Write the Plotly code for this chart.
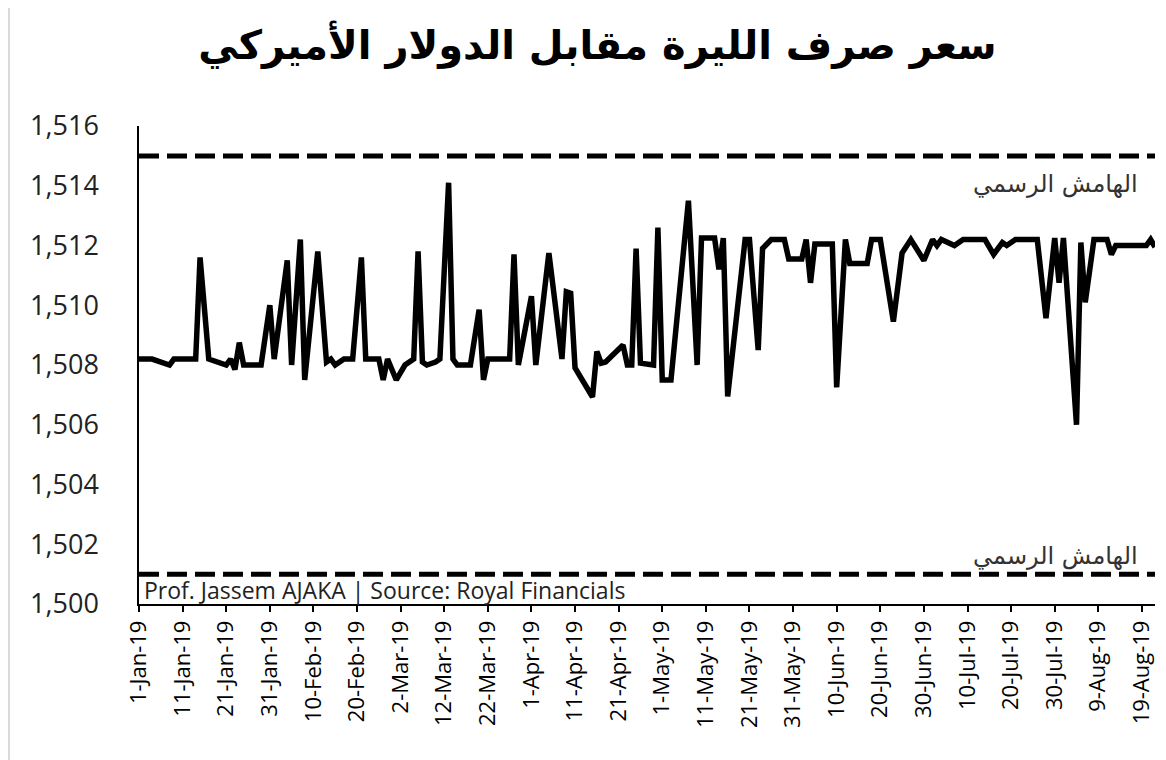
import plotly.graph_objects as go

# ---- data ----
dates = [
    "2019-01-01", "2019-01-04", "2019-01-08", "2019-01-09", "2019-01-14", "2019-01-15",
    "2019-01-17", "2019-01-21", "2019-01-22", "2019-01-23", "2019-01-24", "2019-01-25",
    "2019-01-29", "2019-01-31", "2019-02-01", "2019-02-04", "2019-02-05", "2019-02-07",
    "2019-02-08", "2019-02-11", "2019-02-13", "2019-02-14", "2019-02-15", "2019-02-17",
    "2019-02-19", "2019-02-21", "2019-02-22", "2019-02-25", "2019-02-26", "2019-02-27",
    "2019-03-01", "2019-03-03", "2019-03-05", "2019-03-06", "2019-03-07", "2019-03-08",
    "2019-03-10", "2019-03-11", "2019-03-13", "2019-03-14", "2019-03-15", "2019-03-18",
    "2019-03-20", "2019-03-21", "2019-03-22", "2019-03-27", "2019-03-28", "2019-03-29",
    "2019-04-01", "2019-04-02", "2019-04-05", "2019-04-08", "2019-04-09", "2019-04-10",
    "2019-04-11", "2019-04-15", "2019-04-16", "2019-04-17", "2019-04-18", "2019-04-22",
    "2019-04-23", "2019-04-24", "2019-04-25", "2019-04-26", "2019-04-29", "2019-04-30",
    "2019-05-01", "2019-05-03", "2019-05-07", "2019-05-09", "2019-05-10", "2019-05-13",
    "2019-05-14", "2019-05-15", "2019-05-16", "2019-05-20", "2019-05-21", "2019-05-23",
    "2019-05-24", "2019-05-26", "2019-05-29", "2019-05-30", "2019-06-02", "2019-06-03",
    "2019-06-04", "2019-06-05", "2019-06-09", "2019-06-10", "2019-06-12", "2019-06-13",
    "2019-06-17", "2019-06-18", "2019-06-20", "2019-06-23", "2019-06-25", "2019-06-27",
    "2019-06-30", "2019-07-02", "2019-07-03", "2019-07-04", "2019-07-07", "2019-07-09",
    "2019-07-14", "2019-07-16", "2019-07-18", "2019-07-19", "2019-07-21", "2019-07-26",
    "2019-07-28", "2019-07-30", "2019-07-31", "2019-08-01", "2019-08-04", "2019-08-05",
    "2019-08-06", "2019-08-08", "2019-08-11", "2019-08-12", "2019-08-13", "2019-08-20",
    "2019-08-21", "2019-08-22",
]
rates = [
    1508.2, 1508.2, 1508.0, 1508.2, 1508.2, 1511.6,
    1508.2, 1508.0, 1508.2, 1507.85, 1508.75, 1508.0,
    1508.0, 1510.0, 1508.2, 1511.5, 1508.0, 1512.2,
    1507.5, 1511.8, 1508.1, 1508.2, 1508.0, 1508.2,
    1508.2, 1511.6, 1508.2, 1508.2, 1507.5, 1508.2,
    1507.5, 1508.0, 1508.2, 1511.8, 1508.1, 1508.0,
    1508.1, 1508.2, 1514.1, 1508.2, 1508.0, 1508.0,
    1509.85, 1507.5, 1508.2, 1508.2, 1511.7, 1508.0,
    1510.3, 1508.0, 1511.75, 1508.2, 1510.45, 1510.4,
    1507.9, 1506.93, 1508.45, 1508.06, 1508.1, 1508.67,
    1508.0, 1508.0, 1511.9, 1508.06, 1508.0, 1512.6,
    1507.5, 1507.5, 1513.5, 1508.0, 1512.25, 1512.25,
    1511.2, 1512.25, 1506.95, 1512.2, 1512.2, 1508.5,
    1511.9, 1512.2, 1512.2, 1511.55, 1511.55, 1512.2,
    1510.75, 1512.05, 1512.05, 1507.25, 1512.2, 1511.4,
    1511.4, 1512.2, 1512.2, 1509.45, 1511.75, 1512.2,
    1511.5, 1512.2, 1512.0, 1512.2, 1512.0, 1512.2,
    1512.2, 1511.7, 1512.1, 1512.0, 1512.2, 1512.2,
    1509.57, 1512.25, 1510.75, 1512.25, 1506.0, 1512.1,
    1510.1, 1512.2, 1512.2, 1511.7, 1512.0, 1512.0,
    1512.2, 1511.95,
]
upper_margin = 1515
lower_margin = 1501
x_start = "2019-01-01"
x_end = "2019-08-22"
tick_dates = [
    "2019-01-01", "2019-01-11", "2019-01-21", "2019-01-31", "2019-02-10", "2019-02-20",
    "2019-03-02", "2019-03-12", "2019-03-22", "2019-04-01", "2019-04-11", "2019-04-21",
    "2019-05-01", "2019-05-11", "2019-05-21", "2019-05-31", "2019-06-10", "2019-06-20",
    "2019-06-30", "2019-07-10", "2019-07-20", "2019-07-30", "2019-08-09", "2019-08-19",
]
tick_labels = [
    "1-Jan-19", "11-Jan-19", "21-Jan-19", "31-Jan-19", "10-Feb-19", "20-Feb-19",
    "2-Mar-19", "12-Mar-19", "22-Mar-19", "1-Apr-19", "11-Apr-19", "21-Apr-19",
    "1-May-19", "11-May-19", "21-May-19", "31-May-19", "10-Jun-19", "20-Jun-19",
    "30-Jun-19", "10-Jul-19", "20-Jul-19", "30-Jul-19", "9-Aug-19", "19-Aug-19",
]
title_text = "سعر صرف الليرة مقابل الدولار الأميركي"
margin_label = "الهامش الرسمي"
source_text = "Prof. Jassem AJAKA | Source: Royal Financials"

fig = go.Figure()

# official margin dashed lines
for level in (upper_margin, lower_margin):
    fig.add_trace(go.Scatter(
        x=[x_start, x_end], y=[level, level], mode="lines",
        line=dict(color="black", width=5, dash="20px,8px"),
        hoverinfo="skip", showlegend=False,
    ))

fig.add_trace(go.Scatter(
    x=dates, y=rates, mode="lines",
    line=dict(color="black", width=5.5, shape="linear"),
    showlegend=False,
))

fig.update_layout(
    width=1158, height=752,
    paper_bgcolor="white", plot_bgcolor="white",
    margin=dict(l=131, r=11, t=118, b=156, autoexpand=False),
    font=dict(family="Open Sans, DejaVu Sans", color="#222"),
    title=dict(
        text="<b>" + title_text + "</b>",
        x=0.509, xanchor="center", y=0.951, yanchor="middle",
        font=dict(family="DejaVu Sans", size=40, color="black"),
    ),
    xaxis=dict(
        type="date", range=[x_start, x_end],
        tickmode="array", tickvals=tick_dates, ticktext=tick_labels,
        tickangle=-90, tickfont=dict(size=22, color="black"),
        showgrid=False, zeroline=False,
        showline=True, linecolor="black", linewidth=1.5,
        ticks="outside", ticklen=6, tickwidth=1.5, tickcolor="black",
    ),
    yaxis=dict(
        range=[1500, 1516], dtick=2, tick0=1500, tickformat=",d",
        tickfont=dict(size=27, color="#222"),
        showgrid=False, zeroline=False,
        showline=True, linecolor="black", linewidth=1.5,
        ticks="", ticklabelstandoff=33,
    ),
    shapes=[dict(
        type="line", xref="paper", yref="paper",
        x0=-0.128, x1=-0.128, y0=-0.4, y1=1.3,
        line=dict(color="#d9d9d9", width=2),
    )],
)

fig.add_annotation(
    x=0.985, xref="paper", y=1514.05, yref="y", text=margin_label,
    showarrow=False, xanchor="right", yanchor="middle",
    font=dict(family="DejaVu Sans", size=24, color="#333"),
)
fig.add_annotation(
    x=0.985, xref="paper", y=1501.6, yref="y", text=margin_label,
    showarrow=False, xanchor="right", yanchor="middle",
    font=dict(family="DejaVu Sans", size=24, color="#333"),
)
fig.add_annotation(
    x=0.003, xref="paper", y=0.0, yref="paper", text=source_text,
    showarrow=False, xanchor="left", yanchor="bottom", yshift=-4,
    font=dict(family="Open Sans", size=23, color="#222"),
)

fig.write_html("out.html")
